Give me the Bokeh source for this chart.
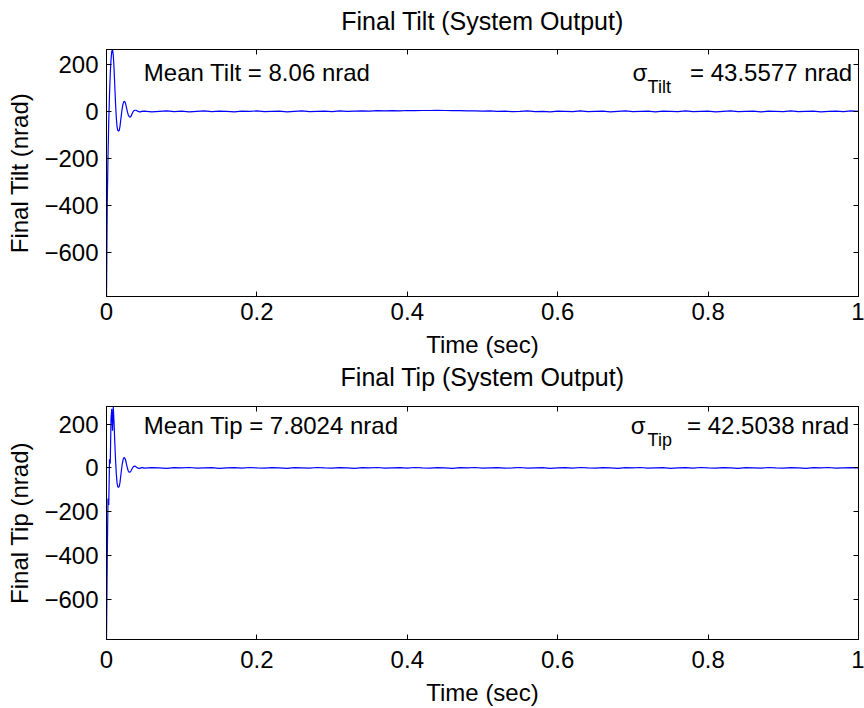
import numpy as np
from bokeh.plotting import figure
from bokeh.models import (Range1d, LinearAxis, FixedTicker, CustomJSTickFormatter,
                          Label, ColumnDataSource)
from bokeh.layouts import column
from bokeh.embed import file_html
from bokeh.resources import INLINE

FONT = "Liberation Sans"

# ---------------- data ----------------
t_fast = [round(0.001 * i, 3) for i in range(50)]        # 0.000 .. 0.049 s
t_slow = [round(0.05 + 0.01 * i, 2) for i in range(96)]  # 0.05 .. 1.00 s
time_s = t_fast + t_slow

tilt_transient = [-786, -390, -190, -40, 70, 160, 220, 255, 263, 240,
                  185, 110, 35, -25, -65, -80, -84, -80, -62, -35,
                  -8, 15, 32, 41, 43, 37, 25, 10, -4, -15,
                  -21, -24, -23, -18, -10, -3, 2, 4, 5, 5,
                  4, 2, 0, -1, -2, -2, -1, 0, 1, 0]
tilt_tail = [1, -2, 0, 2, -1, 1, -2, 0, 2, -1,
             1, 0, -2, 1, 0, 2, -1, 0, 1, -2,
             0, 2, -1, 0, 1, -1, 2, 0, 1, 2,
             1, 3, 2, 3, 2, 4, 3, 4, 4, 5,
             4, 3, 3, 2, 2, 1, 2, 0, 1, -1,
             0, 2, -1, 0, -2, 1, 0, -1, 2, -1,
             0, 1, -2, 0, 2, -1, 0, 1, -2, 1,
             0, -1, 2, -1, 0, 1, -2, 0, 2, -1,
             0, 1, -2, 1, 0, -1, 2, -1, 0, 1,
             -2, 0, 1, -1, 2, 0]
tip_transient = [-785, -420, -140, -170, 40, 20, 225, 270, 170, 281,
                 210, 120, 40, -25, -68, -86, -89, -84, -65, -36,
                 -6, 19, 37, 46, 47, 40, 27, 11, -4, -14,
                 -19, -20, -17, -11, -4, 2, 6, 8, 8, 6,
                 3, 1, -1, -2, -2, -1, 0, 1, 1, 0]
tip_tail = [-1, 1, 0, -2, 1, 0, 2, -1, 0, 1,
            -2, 0, 1, -1, 2, 0, -1, 1, 0, -2,
            1, 0, -1, 2, 0, -1, 1, 0, -2, 1,
            0, 2, -1, 0, 1, -1, 2, 0, -1, 1,
            0, -2, 1, 0, 2, -1, 0, 1, -1, 0,
            2, -1, 0, 1, -2, 0, 1, -1, 2, 0,
            -1, 1, 0, -2, 1, 0, 2, -1, 0, 1,
            -2, 0, 1, -1, 2, 0, -1, 1, 0, -2,
            1, 0, -1, 2, 0, -1, 1, 0, -2, 1,
            0, 2, -1, 0, 1, 0]

final_tilt = tilt_transient + tilt_tail
final_tip = tip_transient + tip_tail

x_ticks = [0, 0.2, 0.4, 0.6, 0.8, 1]
y_ticks = [-600, -400, -200, 0, 200]

titles = ["Final Tilt (System Output)", "Final Tip (System Output)"]
ylabels = ["Final Tilt (nrad)", "Final Tip (nrad)"]
xlabel = "Time (sec)"
mean_texts = ["Mean Tilt = 8.06 nrad", "Mean Tip = 7.8024 nrad"]
sigma_subs = ["Tilt", "Tip"]
sigma_values = ["= 43.5577 nrad", "= 42.5038 nrad"]

fmt_code = "return tick < 0 ? '\u2212' + String(-tick) : String(tick);"


def make_panel(y, title, ylabel, mean_text, sub, sval, height, top, bottom,
               title_standoff, title_lift, text_y, sig_x, sub_x, val_x,
               lab_standoff, axlab_standoff):
    p = figure(width=864, height=height, output_backend="svg", toolbar_location=None,
               x_range=Range1d(0, 1), y_range=Range1d(min(y), max(y)),
               min_border_left=106, min_border_right=6, min_border_top=top,
               min_border_bottom=bottom, title=title,
               x_axis_label=xlabel, y_axis_label=ylabel)
    p.grid.visible = False
    p.background_fill_color = "white"
    p.border_fill_color = "white"
    p.outline_line_color = "black"
    p.outline_line_width = 1

    p.title.text_font = FONT
    p.title.text_font_size = "25px"
    p.title.text_font_style = "normal"
    p.title.text_color = "black"
    p.title.align = "center"
    p.title.standoff = title_standoff

    for ax in (p.xaxis[0], p.yaxis[0]):
        ax.major_label_text_font = FONT
        ax.major_label_text_font_size = "24px"
        ax.major_label_text_color = "black"
        ax.axis_label_text_font = FONT
        ax.axis_label_text_font_size = "24px"
        ax.axis_label_text_font_style = "normal"
        ax.axis_label_text_color = "black"
        ax.major_tick_in = 5
        ax.major_tick_out = 0
        ax.minor_tick_in = 0
        ax.minor_tick_out = 0
        ax.axis_line_color = "black"
        ax.major_tick_line_color = "black"
        ax.formatter = CustomJSTickFormatter(code=fmt_code)
    p.xaxis[0].ticker = FixedTicker(ticks=x_ticks)
    p.yaxis[0].ticker = FixedTicker(ticks=y_ticks)
    p.xaxis[0].major_label_standoff = lab_standoff
    p.xaxis[0].axis_label_standoff = axlab_standoff
    p.yaxis[0].major_label_standoff = 8
    p.yaxis[0].axis_label_standoff = 8

    # mirrored tick marks on top and right (box on); the top one also lifts the title
    top_ax = LinearAxis(ticker=FixedTicker(ticks=x_ticks),
                        formatter=CustomJSTickFormatter(code="return '';"),
                        major_label_text_font_size="0px", major_label_standoff=0,
                        axis_label=" ", axis_label_text_font_size="1px",
                        axis_label_standoff=title_lift,
                        major_tick_in=5, major_tick_out=0, minor_tick_in=0, minor_tick_out=0,
                        axis_line_color="black", major_tick_line_color="black")
    p.add_layout(top_ax, "above")
    right_ax = LinearAxis(ticker=FixedTicker(ticks=y_ticks),
                          formatter=CustomJSTickFormatter(code="return '';"),
                          major_label_text_font_size="0px", major_label_standoff=0,
                          major_tick_in=5, major_tick_out=0, minor_tick_in=0, minor_tick_out=0,
                          axis_line_color="black", major_tick_line_color="black")
    p.add_layout(right_ax, "right")

    src = ColumnDataSource(dict(t=time_s, v=y))
    p.line("t", "v", source=src, line_color="#0000ff", line_width=1.2)

    common = dict(text_font=FONT, text_color="black", text_baseline="alphabetic",
                  text_align="left")
    p.add_layout(Label(x=0.0496, y=text_y, text=mean_text, text_font_size="24px", **common))
    p.add_layout(Label(x=sig_x, y=text_y, text="\u03c3", text_font_size="24px", **common))
    p.add_layout(Label(x=sub_x, y=text_y, y_offset=-14, text=sub, text_font_size="18px", **common))
    p.add_layout(Label(x=val_x, y=text_y, text=sval, text_font_size="24px", **common))
    return p


p1 = make_panel(final_tilt, titles[0], ylabels[0], mean_texts[0], sigma_subs[0], sigma_values[0],
                height=360, top=49, bottom=62, title_standoff=7, title_lift=7, text_y=165,
                sig_x=0.6996, sub_x=0.7195, val_x=0.776, lab_standoff=6, axlab_standoff=8)
p2 = make_panel(final_tip, titles[1], ylabels[1], mean_texts[1], sigma_subs[1], sigma_values[1],
                height=348, top=45, bottom=63, title_standoff=1, title_lift=11, text_y=193,
                sig_x=0.697, sub_x=0.7195, val_x=0.772, lab_standoff=11, axlab_standoff=8)

layout = column(p1, p2, spacing=0)
open("out.html", "w").write(file_html(layout, INLINE))
